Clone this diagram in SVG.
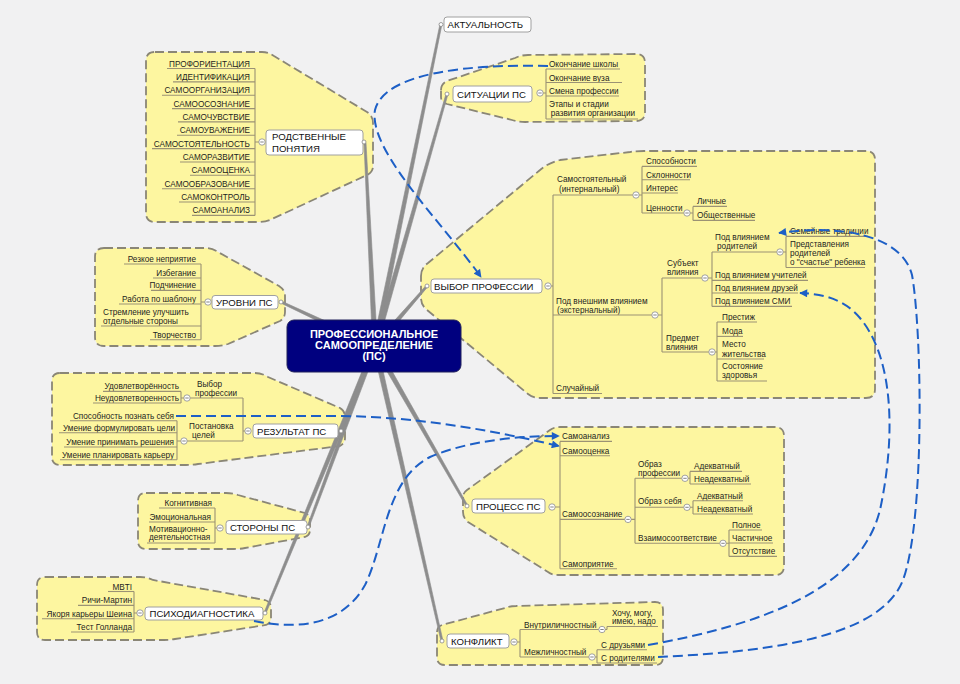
<svg xmlns="http://www.w3.org/2000/svg" xmlns:xlink="http://www.w3.org/1999/xlink" width="960" height="684" viewBox="0 0 960 684">
<style>
.b{fill:#fdf6a0;stroke:#8a8676;stroke-width:1.8;stroke-dasharray:9 4}
.br{fill:#8d8d8d;stroke:#8d8d8d;stroke-width:0.6;stroke-linejoin:round}
.u{fill:none;stroke:#9b9274;stroke-width:1.1}
.s{font-family:"Liberation Sans",Arial,sans-serif;font-size:8.2px;fill:#1e1e1e}
.e{text-anchor:end}
.n{font-family:"Liberation Sans",Arial,sans-serif;font-size:9.6px;fill:#111}
.nb{fill:#fff;stroke:#a0a0a0;stroke-width:1}
.pt{fill:#fff;stroke:#888;stroke-width:0.8}
.rel{fill:none;stroke:#1d5fc6;stroke-width:2;stroke-dasharray:10 5}
.c{font-family:"Liberation Sans",Arial,sans-serif;font-size:11px;font-weight:bold;fill:#fff;text-anchor:middle}
</style>
<defs>
<g id="mi"><circle r="3.2" fill="#fff" stroke="#8a8a8a" stroke-width="0.8"/><path d="M-1.7,0H1.7" stroke="#666" stroke-width="0.8"/></g>
<marker id="ah" viewBox="0 0 10 10" refX="9" refY="5" markerWidth="9" markerHeight="8" markerUnits="userSpaceOnUse" orient="auto"><path d="M0,0 L10,5 L0,10 z" fill="#1d5fc6"/></marker>
</defs>
<rect width="960" height="684" fill="#f1f1f2"/>

<g id="boundaries">
<path class="b" d="M155,52 L262,52 Q268,52 274,56 L367,112 Q373,116 373,123 L373,166 Q373,172 367,175 L272,219 Q266,222 259,222 L155,222 Q146,222 146,213 L146,61 Q146,52 155,52 Z"/>
<path class="b" d="M441,90 Q441,84 447,81 L515,58 Q521,55 528,55 L636,54 Q645,54 645,63 L645,112 Q645,121 636,121 L525,122 Q518,122 512,120 L447,104 Q441,102 441,97 Z"/>
<path class="b" d="M421,276 Q421,268 428,263 L540,170 Q548,163 560,160 L630,152 Q636,151 644,151 L866,151 Q875,151 875,160 L875,389 Q875,398 866,398 L540,398 Q533,398 528,394 L427,310 Q421,305 421,298 Z"/>
<path class="b" d="M104,248 L205,248 Q212,248 218,252 L279,286 Q285,290 285,296 L285,312 Q285,318 280,321 L228,344 Q222,346 215,346 L104,346 Q95,346 95,337 L95,257 Q95,248 104,248 Z"/>
<path class="b" d="M60,373 L255,373 Q262,373 268,377 L340,408 Q345,411 345,417 L345,438 Q345,443 340,446 L198,464 Q192,465 186,465 L60,465 Q52,465 52,457 L52,381 Q52,373 60,373 Z"/>
<path class="b" d="M463,497 L463,512 Q463,518 468,522 L548,572 Q552,575 558,575 L775,575 Q784,575 784,566 L784,436 Q784,427 775,427 L560,427 Q554,427 550,430 L467,490 Q463,493 463,497 Z"/>
<path class="b" d="M146,493 L226,493 Q232,493 238,495 L305,513 Q310,515 310,520 L310,530 Q310,535 305,537 L245,548 Q240,549 234,549 L146,549 Q138,549 138,541 L138,501 Q138,493 146,493 Z"/>
<path class="b" d="M45,577 L140,577 Q147,577 153,580 L265,600 Q271,602 271,608 L271,618 Q271,623 266,625 L175,639 Q170,640 164,640 L45,640 Q37,640 37,632 L37,585 Q37,577 45,577 Z"/>
<path class="b" d="M437,632 Q437,627 442,625 L505,608 Q510,606 516,606 L655,602 Q663,602 663,610 L663,657 Q663,665 655,665 L445,665 Q437,665 437,657 Z"/>
</g>

<g id="connectors">
<polygon class="br" points="377.45,346.5 441.98,24.2 440.02,23.8 372.55,345.5"/>
<polygon class="br" points="377.4,346.69 447.96,94.27 446.04,93.73 372.6,345.31"/>
<polygon class="br" points="377.5,345.88 366,142.95 364,143.05 372.5,346.12"/>
<polygon class="br" points="376.89,347.64 427.76,286.66 426.24,285.34 373.11,344.36"/>
<polygon class="br" points="376.06,343.74 281.42,301.09 280.58,302.91 373.94,348.27"/>
<polygon class="br" points="372.68,345.07 340.07,430.63 341.93,431.37 377.32,346.93"/>
<polygon class="br" points="372.66,345.13 307.06,526.65 308.94,527.35 377.34,346.87"/>
<polygon class="br" points="372.69,345.05 264.08,612.62 265.92,613.38 377.31,346.95"/>
<polygon class="br" points="372.83,347.25 466.13,506.5 467.87,505.5 377.17,344.75"/>
<polygon class="br" points="372.56,346.55 441.03,641.22 442.98,640.78 377.44,345.45"/>
</g>

<g id="center">
<rect x="287" y="320" width="174" height="52" rx="7" fill="#00007f" stroke="#20205a" stroke-width="1"/>
<text class="c" x="374" y="338.3">ПРОФЕССИОНАЛЬНОЕ</text>
<text class="c" x="374" y="349.3">САМООПРЕДЕЛЕНИЕ</text>
<text class="c" x="374" y="360.3">(ПС)</text>
</g>

<g id="aktualnost">
<rect class="nb" x="444" y="17" width="87" height="15" rx="3"/>
<text class="n" x="447.5" y="28.4">АКТУАЛЬНОСТЬ</text>
<circle class="pt" cx="441" cy="24.5" r="2"/>
</g>

<g id="rodstvennye">
<rect class="nb" x="266" y="130" width="97" height="25" rx="3"/>
<text class="n" x="272" y="140">РОДСТВЕННЫЕ</text>
<text class="n" x="272" y="151.7">ПОНЯТИЯ</text>
<circle class="pt" cx="364" cy="142" r="2"/>
<use xlink:href="#mi" x="262" y="142"/>
<path class="u" d="M255,68.5 V215.4 M255,142 H258.8"/>
<g id="r1"><text class="s e" x="250" y="66.5">ПРОФОРИЕНТАЦИЯ</text><path class="u" d="M167,68.5H255"/></g>
<g id="r2"><text class="s e" x="250" y="79.9">ИДЕНТИФИКАЦИЯ</text><path class="u" d="M173,81.9H255"/></g>
<g id="r3"><text class="s e" x="250" y="93.2">САМООРГАНИЗАЦИЯ</text><path class="u" d="M162,95.2H255"/></g>
<g id="r4"><text class="s e" x="250" y="106.6">САМООСОЗНАНИЕ</text><path class="u" d="M172,108.6H255"/></g>
<g id="r5"><text class="s e" x="250" y="119.9">САМОЧУВСТВИЕ</text><path class="u" d="M178,121.9H255"/></g>
<g id="r6"><text class="s e" x="250" y="133.3">САМОУВАЖЕНИЕ</text><path class="u" d="M177,135.3H255"/></g>
<g id="r7"><text class="s e" x="250" y="146.6">САМОСТОЯТЕЛЬНОСТЬ</text><path class="u" d="M152,148.6H255"/></g>
<g id="r8"><text class="s e" x="250" y="160">САМОРАЗВИТИЕ</text><path class="u" d="M180,162H255"/></g>
<g id="r9"><text class="s e" x="250" y="173.3">САМООЦЕНКА</text><path class="u" d="M190,175.3H255"/></g>
<g id="r10"><text class="s e" x="250" y="186.7">САМООБРАЗОВАНИЕ</text><path class="u" d="M162,188.7H255"/></g>
<g id="r11"><text class="s e" x="250" y="200">САМОКОНТРОЛЬ</text><path class="u" d="M179,202H255"/></g>
<g id="r12"><text class="s e" x="250" y="213.4">САМОАНАЛИЗ</text><path class="u" d="M192,215.4H255"/></g>
</g>

<g id="situacii">
<rect class="nb" x="453" y="86" width="79" height="16" rx="3"/>
<text class="n" x="457" y="97.7">СИТУАЦИИ ПС</text>
<circle class="pt" cx="447" cy="94" r="2"/>
<use xlink:href="#mi" x="540" y="93"/>
<path class="u" d="M546,69 V119 M543.2,93 H546"/>
<g id="s1"><text class="s" x="549" y="67.3">Окончание школы</text><path class="u" d="M546,69H620"/></g>
<g id="s2"><text class="s" x="549" y="80.7">Окончание вуза</text><path class="u" d="M546,82.5H622"/></g>
<g id="s3"><text class="s" x="549" y="94">Смена профессии</text><path class="u" d="M546,96H619"/></g>
<g id="s4"><text class="s" x="549" y="107.3">Этапы и стадии</text><text class="s" x="550.7" y="116.3">развития организации</text><path class="u" d="M546,119H638"/></g>
</g>

<g id="vybor">
<rect class="nb" x="431" y="279" width="111" height="14" rx="3"/>
<text class="n" x="434" y="290">ВЫБОР ПРОФЕССИИ</text>
<circle class="pt" cx="427" cy="286" r="2"/>
<use xlink:href="#mi" x="548" y="286"/>
<path class="u" d="M553,195 V393.5 M551.2,286 H553"/>
<g id="v1"><text class="s" x="557" y="182">Самостоятельный</text><text class="s" x="559" y="192">(интернальный)</text><path class="u" d="M553,195H632.8"/><use xlink:href="#mi" x="636" y="195"/></g>
<path class="u" d="M642,166.4 V213 M639.2,195 H642"/>
<g id="v11"><text class="s" x="646" y="164.4">Способности</text><path class="u" d="M642,166.4H697"/></g>
<g id="v12"><text class="s" x="646" y="177.7">Склонности</text><path class="u" d="M642,179.7H690"/></g>
<g id="v13"><text class="s" x="646" y="191">Интерес</text><path class="u" d="M642,193H678"/></g>
<g id="v14"><text class="s" x="646" y="211">Ценности</text><path class="u" d="M642,213H683.8"/><use xlink:href="#mi" x="687" y="213"/></g>
<path class="u" d="M693,206.4 V220.4 M690.2,213 H693"/>
<g id="v141"><text class="s" x="697" y="204.4">Личные</text><path class="u" d="M693,206.4H727"/></g>
<g id="v142"><text class="s" x="697" y="218.4">Общественные</text><path class="u" d="M693,220.4H755"/></g>
<g id="v2"><text class="s" x="556" y="303.5">Под внешним влиянием</text><text class="s" x="557" y="312.5">(экстернальный)</text><path class="u" d="M553,315H651.8"/><use xlink:href="#mi" x="655" y="315"/></g>
<path class="u" d="M662,278 V352 M658.2,315 H662"/>
<g id="v21"><text class="s" x="667" y="266">Субъект</text><text class="s" x="667" y="275">влияния</text><path class="u" d="M662,278H701.8"/><use xlink:href="#mi" x="705" y="278"/></g>
<path class="u" d="M712,252 V306.4 M708.2,278 H712"/>
<g id="v211"><text class="s" x="715" y="239.7">Под влиянием</text><text class="s" x="717" y="249.4">родителей</text><path class="u" d="M712,252H776.8"/><use xlink:href="#mi" x="780" y="252"/></g>
<path class="u" d="M786,236.4 V267.5 M783.2,252 H786"/>
<g id="v2111"><text class="s" x="790" y="234.4">Семейные традиции</text><path class="u" d="M786,236.4H868"/></g>
<g id="v2112"><text class="s" x="790" y="247">Представления</text><text class="s" x="790" y="256">родителей</text><text class="s" x="790" y="265">о "счастье" ребенка</text><path class="u" d="M786,267.5H865"/></g>
<g id="v212"><text class="s" x="715" y="278.4">Под влиянием учителей</text><path class="u" d="M712,280.4H808"/></g>
<g id="v213"><text class="s" x="715" y="291">Под влиянием друзей</text><path class="u" d="M712,293H798"/></g>
<g id="v214"><text class="s" x="715" y="304.4">Под влиянием СМИ</text><path class="u" d="M712,306.4H792"/></g>
<g id="v22"><text class="s" x="666" y="341">Предмет</text><text class="s" x="666" y="349.5">влияния</text><path class="u" d="M662,352H708.8"/><use xlink:href="#mi" x="712" y="352"/></g>
<path class="u" d="M717,322 V381 M715.2,352 H717"/>
<g id="v221"><text class="s" x="722" y="320">Престиж</text><path class="u" d="M717,322H757"/></g>
<g id="v222"><text class="s" x="722" y="334.4">Мода</text><path class="u" d="M717,336.4H743"/></g>
<g id="v223"><text class="s" x="722" y="347">Место</text><text class="s" x="722" y="356.7">жительства</text><path class="u" d="M717,359H764"/></g>
<g id="v224"><text class="s" x="722" y="369.4">Состояние</text><text class="s" x="722" y="378.4">здоровья</text><path class="u" d="M717,381H767"/></g>
<g id="v3"><text class="s" x="556" y="391">Случайный</text><path class="u" d="M553,393.5H602"/></g>
</g>

<g id="urovni">
<rect class="nb" x="212" y="295.5" width="66" height="13.5" rx="3"/>
<text class="n" x="216" y="305.7">УРОВНИ ПС</text>
<circle class="pt" cx="281" cy="302" r="2"/>
<use xlink:href="#mi" x="208" y="302"/>
<path class="u" d="M201,264 V339.7 M201,302 H204.8"/>
<g id="u1"><text class="s e" x="196" y="262">Резкое неприятие</text><path class="u" d="M124,264H201"/></g>
<g id="u2"><text class="s e" x="196" y="276">Избегание</text><path class="u" d="M153,278H201"/></g>
<g id="u3"><text class="s e" x="196" y="288.4">Подчинение</text><path class="u" d="M151,290.4H201"/></g>
<g id="u4"><text class="s e" x="196" y="302">Работа по шаблону</text><path class="u" d="M119,304H201"/></g>
<g id="u5"><text class="s" x="103" y="315.4">Стремление улучшить</text><text class="s" x="103" y="323.7">отдельные стороны</text><path class="u" d="M101,326H201"/></g>
<g id="u6"><text class="s e" x="196" y="337.7">Творчество</text><path class="u" d="M150,339.7H201"/></g>
</g>

<g id="rezultat">
<rect class="nb" x="253" y="424" width="85" height="14" rx="3"/>
<text class="n" x="257" y="434.5">РЕЗУЛЬТАТ ПС</text>
<circle class="pt" cx="341" cy="431" r="2"/>
<use xlink:href="#mi" x="248" y="431"/>
<path class="u" d="M243,398 V441 M243,431 H244.8"/>
<g id="z1"><text class="s" x="197" y="387">Выбор</text><text class="s" x="195" y="396">профессии</text><path class="u" d="M190.2,398H243"/><use xlink:href="#mi" x="187" y="398"/></g>
<path class="u" d="M181,391.4 V403 M181,398 H183.8"/>
<g id="z11"><text class="s e" x="179" y="389.4">Удовлетворённость</text><path class="u" d="M103,391.4H181"/></g>
<g id="z12"><text class="s e" x="179" y="401">Неудовлетворенность</text><path class="u" d="M93,403H181"/></g>
<g id="z2"><text class="s" x="189" y="429.4">Постановка</text><text class="s" x="192" y="438.4">целей</text><path class="u" d="M187.2,441H243"/><use xlink:href="#mi" x="184" y="441"/></g>
<path class="u" d="M177,420.7 V459.7 M177,441 H180.8"/>
<g id="z21"><text class="s e" x="174" y="418.7">Способность познать себя</text><path class="u" d="M70,420.7H177"/></g>
<g id="z22"><text class="s e" x="175" y="430.7">Умение формулировать цели</text><path class="u" d="M59,432.7H177"/></g>
<g id="z23"><text class="s e" x="174" y="445">Умение принимать решения</text><path class="u" d="M64,447H177"/></g>
<g id="z24"><text class="s e" x="174" y="457.7">Умение планировать карьеру</text><path class="u" d="M60,459.7H177"/></g>
</g>

<g id="process">
<rect class="nb" x="472" y="499" width="73" height="14" rx="3"/>
<text class="n" x="476" y="510">ПРОЦЕСС ПС</text>
<circle class="pt" cx="467" cy="506" r="2"/>
<use xlink:href="#mi" x="552" y="507"/>
<path class="u" d="M560,441.4 V568.7 M555.2,507 H560"/>
<g id="p1"><text class="s" x="562" y="439.4">Самоанализ</text><path class="u" d="M560,441.4H612"/></g>
<g id="p2"><text class="s" x="562" y="453.7">Самооценка</text><path class="u" d="M560,455.7H610"/></g>
<g id="p3"><text class="s" x="562" y="517">Самоосознание</text><path class="u" d="M560,519.4H624.8"/><use xlink:href="#mi" x="628" y="519.4"/></g>
<path class="u" d="M635,478.3 V543.3 M631.2,519.4 H635"/>
<g id="p31"><text class="s" x="638" y="466.7">Образ</text><text class="s" x="638" y="476">профессии</text><path class="u" d="M635,478.3H681.8"/><use xlink:href="#mi" x="685" y="478.3"/></g>
<path class="u" d="M690,471.4 V484 M688.2,478.3 H690"/>
<g id="p311"><text class="s" x="694" y="469.4">Адекватный</text><path class="u" d="M690,471.4H742"/></g>
<g id="p312"><text class="s" x="694" y="482">Неадекватный</text><path class="u" d="M690,484H751"/></g>
<g id="p32"><text class="s" x="638" y="504.4">Образ себя</text><path class="u" d="M635,507.3H683.8"/><use xlink:href="#mi" x="687" y="507.3"/></g>
<path class="u" d="M693,500.7 V514 M690.2,507.3 H693"/>
<g id="p321"><text class="s" x="697" y="498.7">Адекватный</text><path class="u" d="M693,500.7H743"/></g>
<g id="p322"><text class="s" x="697" y="512">Неадекватный</text><path class="u" d="M693,514H753"/></g>
<g id="p33"><text class="s" x="638" y="541">Взаимосоответствие</text><path class="u" d="M635,543.3H719.8"/><use xlink:href="#mi" x="723" y="543.3"/></g>
<path class="u" d="M729,530 V556.4 M726.2,543.3 H729"/>
<g id="p331"><text class="s" x="732" y="528">Полное</text><path class="u" d="M729,530H762"/></g>
<g id="p332"><text class="s" x="732" y="541">Частичное</text><path class="u" d="M729,543H773"/></g>
<g id="p333"><text class="s" x="732" y="554.4">Отсутствие</text><path class="u" d="M729,556.4H777"/></g>
<g id="p4"><text class="s" x="562" y="566.7">Самоприятие</text><path class="u" d="M560,568.7H617"/></g>
</g>

<g id="storony">
<rect class="nb" x="226" y="520.5" width="81" height="13.5" rx="3"/>
<text class="n" x="230" y="530.7">СТОРОНЫ ПС</text>
<circle class="pt" cx="308" cy="527" r="2"/>
<use xlink:href="#mi" x="220" y="528"/>
<path class="u" d="M215,508 V543 M215,528 H216.8"/>
<g id="st1"><text class="s e" x="212" y="506">Когнитивная</text><path class="u" d="M159,508H215"/></g>
<g id="st2"><text class="s e" x="211" y="520">Эмоциональная</text><path class="u" d="M149,522H215"/></g>
<g id="st3"><text class="s" x="149" y="532">Мотивационно-</text><text class="s" x="149" y="540.4">деятельностная</text><path class="u" d="M147,543H215"/></g>
</g>

<g id="psihodiagnostika">
<rect class="nb" x="145" y="607" width="118" height="13" rx="3"/>
<text class="n" x="149.5" y="616.8">ПСИХОДИАГНОСТИКА</text>
<circle class="pt" cx="265" cy="613" r="2"/>
<use xlink:href="#mi" x="140" y="613"/>
<path class="u" d="M134,591.5 V632 M134,613 H136.8"/>
<g id="d1"><text class="s e" x="132" y="589.6">MBTI</text><path class="u" d="M108,591.5H134"/></g>
<g id="d2"><text class="s e" x="132" y="603.4">Ричи-Мартин</text><path class="u" d="M78,605.4H134"/></g>
<g id="d3"><text class="s e" x="132" y="616.7">Якоря карьеры Шеина</text><path class="u" d="M42,618.7H134"/></g>
<g id="d4"><text class="s e" x="132" y="630">Тест Голланда</text><path class="u" d="M71,632H134"/></g>
</g>

<g id="konflikt">
<rect class="nb" x="447" y="634" width="62" height="14" rx="3"/>
<text class="n" x="451" y="645">КОНФЛИКТ</text>
<circle class="pt" cx="442" cy="641" r="2"/>
<use xlink:href="#mi" x="514" y="642"/>
<path class="u" d="M520,629.5 V657 M517.2,642 H520"/>
<g id="k1"><text class="s" x="524" y="627.7">Внутриличностный</text><path class="u" d="M520,629.5H598.8"/><use xlink:href="#mi" x="602" y="629.5"/></g>
<path class="u" d="M607,626.5 V629.5 M605.2,629.5 H607"/>
<g id="k11"><text class="s" x="612" y="616">Хочу, могу,</text><text class="s" x="612" y="624.4">имею, надо</text><path class="u" d="M607,626.5H658"/></g>
<g id="k2"><text class="s" x="524" y="655">Межличностный</text><path class="u" d="M520,657H588.8"/><use xlink:href="#mi" x="592" y="657"/></g>
<path class="u" d="M597,649.7 V663 M595.2,657 H597"/>
<g id="k21"><text class="s" x="601" y="647.7">С друзьями</text><path class="u" d="M597,649.7H647"/></g>
<g id="k22"><text class="s" x="601" y="661">С родителями</text><path class="u" d="M597,663H657"/></g>
</g>

<g id="relationships">
<path class="rel" marker-end="url(#ah)" d="M548,66 C470,64 385,72 375,110 C368,150 440,220 481,277"/>
<path class="rel" marker-end="url(#ah)" d="M176,416 L340,416 C420,417 490,430 559,446"/>
<path class="rel" marker-end="url(#ah)" d="M254,621 C290,628 340,630 365,585 C385,545 385,480 430,457 C470,440 520,436 559,436"/>
<path class="rel" marker-end="url(#ah)" d="M658,657 C760,652 880,640 903,580 C925,520 922,330 912,275 C902,235 840,224 779,233"/>
<path class="rel" marker-end="url(#ah)" d="M648,645 C760,625 860,590 880,510 C895,440 895,360 860,318 C845,300 825,294 800,293"/>
</g>
</svg>
